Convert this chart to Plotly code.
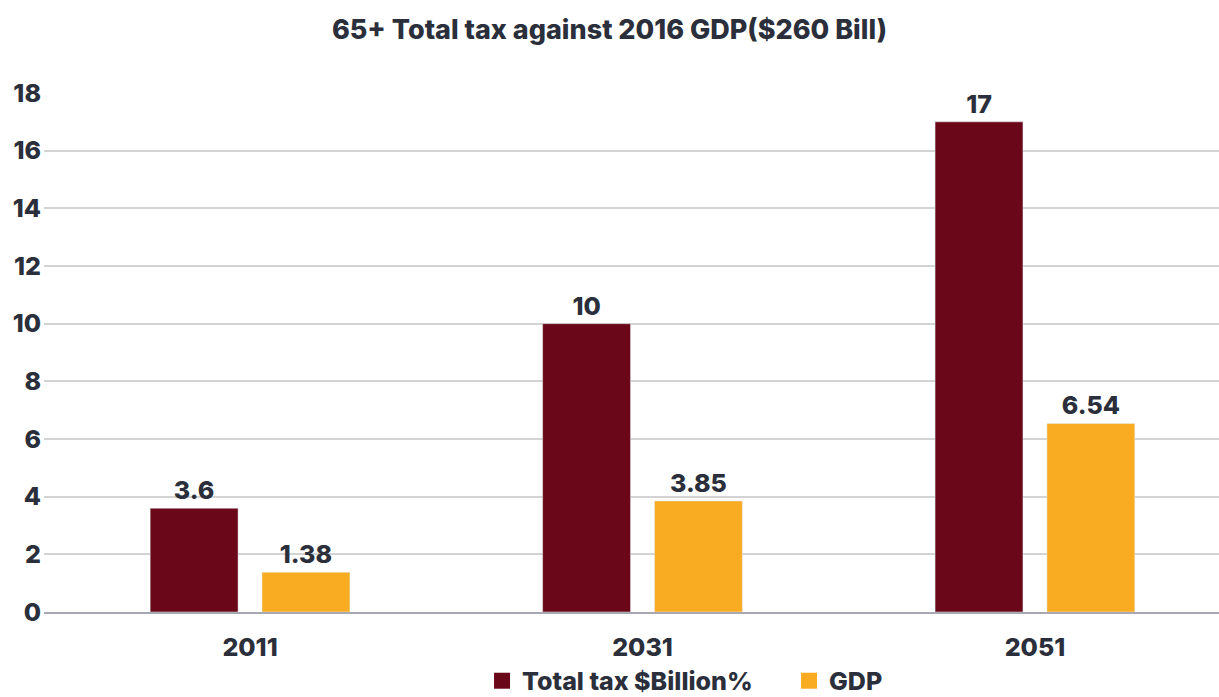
import plotly.graph_objects as go

categories = ["2011", "2031", "2051"]
total_tax = [3.6, 10, 17]
gdp = [1.38, 3.85, 6.54]
tax_labels = ["3.6", "10", "17"]
gdp_labels = ["1.38", "3.85", "6.54"]
y_ticks = [0, 2, 4, 6, 8, 10, 12, 14, 16, 18]
series_names = ["Total tax $Billion%", "GDP"]
series_colors = ["#6a0819", "#f9ab22"]

TEXT = "#2b2f3b"
FONT = "Inter"
W = 800

fig = go.Figure()
for name, vals, labels, color in zip(series_names, [total_tax, gdp], [tax_labels, gdp_labels], series_colors):
    fig.add_bar(x=categories, y=vals, name=name, marker_color=color, showlegend=False,
                text=labels, textposition="outside", cliponaxis=False,
                textfont=dict(size=25, color=TEXT, family=FONT, weight=W))
# legend entries with larger square symbols
for name, color in zip(series_names, series_colors):
    fig.add_scatter(x=[None], y=[None], mode="markers", name=name,
                    marker=dict(symbol="square", size=28, color=color))

fig.update_layout(
    width=1219, height=697,
    margin=dict(l=44, r=0, t=93, b=85, autoexpand=False),
    paper_bgcolor="white", plot_bgcolor="white",
    font=dict(family=FONT, color=TEXT, size=22, weight=W),
    title=dict(text="65+ Total tax against 2016 GDP($260 Bill)", x=0.5, xanchor="center",
               y=0.957, yanchor="middle", font=dict(size=27, family=FONT, color=TEXT, weight=W)),
    barmode="group", bargap=0.43, bargroupgap=0.214,
    showlegend=True,
    legend=dict(orientation="h", xref="paper", x=0.3728, xanchor="left",
                yref="container", y=0.056, yanchor="top", bgcolor="rgba(0,0,0,0)",
                font=dict(size=25, family=FONT, color=TEXT, weight=W),
                traceorder="normal", entrywidth=262, entrywidthmode="pixels"),
    xaxis=dict(type="category", range=[-0.525, 2.469], showgrid=False, showline=True,
               linecolor="#a8a8b0", linewidth=2, ticks="", ticklabelstandoff=12,
               tickfont=dict(size=25, family=FONT, color=TEXT, weight=W)),
    yaxis=dict(range=[0, 18], tickvals=y_ticks, showgrid=True, gridcolor="#d3d3d3", gridwidth=2,
               zeroline=False, ticks="", ticklabelstandoff=2,
               tickfont=dict(size=25, family=FONT, color=TEXT, weight=W)),
)

fig.write_html("out.html")
